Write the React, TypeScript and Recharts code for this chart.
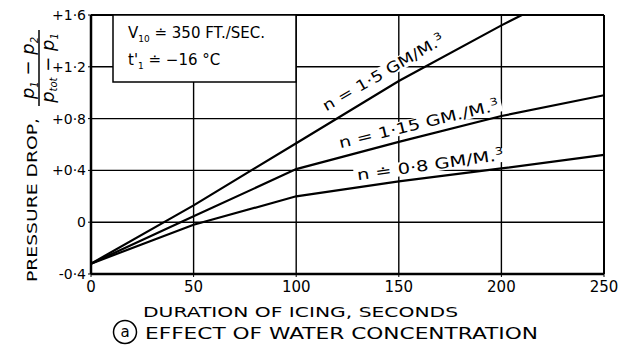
import { LineChart, Line, XAxis, YAxis, CartesianGrid, ReferenceLine } from "recharts";

const xTicks = [0, 50, 100, 150, 200, 250];
const yTicks = [-0.4, 0, 0.4, 0.8, 1.2, 1.6];
const yTickLabels = ["-0·4", "0", "+0·4", "+0·8", "+1·2", "+1·6"];

// duration of icing (s) and pressure drop, one pair per water concentration
const time15 = [0, 50, 100, 150, 200, 210];
const drop15 = [-0.32, 0.13, 0.61, 1.09, 1.52, 1.6];

const time115 = [0, 50, 100, 150, 200, 250];
const drop115 = [-0.32, 0.045, 0.41, 0.62, 0.82, 0.98];

const time08 = [0, 50, 100, 150, 200, 250];
const drop08 = [-0.32, -0.02, 0.2, 0.315, 0.415, 0.52];

const toPoints = (xs: number[], ys: number[]) => xs.map((x, i) => ({ x, y: ys[i] }));

const FONT = "'DejaVu Sans', sans-serif";
const INK = "#000";

function Sup({ children }: { children: string }) {
  return (
    <tspan dy={-6} fontSize={10}>
      {children}
    </tspan>
  );
}

// curve label on a white strip, so the grid breaks around the lettering like the drawing
function CurveLabel({ x, y, angle, len, children }: { x: number; y: number; angle: number; len: number; children: React.ReactNode }) {
  return (
    <g transform={`translate(${x},${y}) rotate(${angle})`}>
      <rect x={-len / 2 - 3} y={-12} width={len + 6} height={14} fill="#fff" />
      <text x={0} y={0} fontSize={15} textAnchor="middle" textLength={len} lengthAdjust="spacingAndGlyphs">
        {children}
      </text>
    </g>
  );
}

export default function App() {
  const s15 = toPoints(time15, drop15);
  const s115 = toPoints(time115, drop115);
  const s08 = toPoints(time08, drop08);

  return (
    <div style={{ position: "absolute", left: 0, top: 0, width: 628, height: 350, background: "#fff" }}>
      <LineChart width={628} height={350} margin={{ top: 15, right: 24, left: 90, bottom: 75 }}>
        <CartesianGrid stroke={INK} strokeWidth={1.4} />
        <XAxis
          type="number"
          dataKey="x"
          domain={[0, 250]}
          ticks={xTicks}
          height={1}
          tickSize={3}
          tickMargin={4}
          axisLine={{ stroke: INK, strokeWidth: 2.5 }}
          tickLine={{ stroke: INK }}
          tick={{ fill: INK, fontSize: 15, fontFamily: FONT }}
        />
        <YAxis
          type="number"
          domain={[-0.4, 1.6]}
          ticks={yTicks}
          width={1}
          tickSize={3}
          tickMargin={2}
          allowDataOverflow
          tickFormatter={(_v: number, i: number) => yTickLabels[i]}
          axisLine={{ stroke: INK, strokeWidth: 2.5 }}
          tickLine={{ stroke: INK }}
          tick={{ fill: INK, fontSize: 14, fontFamily: FONT }}
        />
        <ReferenceLine y={1.6} stroke={INK} strokeWidth={2} />
        <ReferenceLine x={250} stroke={INK} strokeWidth={2} />
        <Line data={s15} dataKey="y" type="linear" stroke={INK} strokeWidth={2.2} dot={false} isAnimationActive={false} />
        <Line data={s115} dataKey="y" type="linear" stroke={INK} strokeWidth={2.2} dot={false} isAnimationActive={false} />
        <Line data={s08} dataKey="y" type="linear" stroke={INK} strokeWidth={2.2} dot={false} isAnimationActive={false} />
      </LineChart>

      <svg
        width={628}
        height={350}
        style={{ position: "absolute", left: 0, top: 0, pointerEvents: "none" }}
        fontFamily={FONT}
        fill={INK}
      >
        {/* conditions box */}
        <rect x={113} y={15} width={183} height={67} fill="#fff" stroke={INK} strokeWidth={1.5} />
        <text x={128} y={38} fontSize={15}>
          V<tspan dy={4} fontSize={9}>10</tspan>
          <tspan dy={-4}> ≐ 350 FT./SEC.</tspan>
        </text>
        <text x={128} y={65} fontSize={15}>
          t'<tspan dy={4} fontSize={9}>1</tspan>
          <tspan dy={-4}> ≐ −16 °C</tspan>
        </text>

        {/* curve labels */}
        <CurveLabel x={386} y={77} angle={-30} len={138}>
          n = 1·5 GM/M.<Sup>3</Sup>
        </CurveLabel>
        <CurveLabel x={420} y={129} angle={-13.5} len={164}>
          n = 1·15 GM./M.<Sup>3</Sup>
        </CurveLabel>
        <CurveLabel x={431} y={170} angle={-8} len={148}>
          n ≐ 0·8 GM/M.<Sup>3</Sup>
        </CurveLabel>

        {/* y axis title */}
        <g transform="translate(37,200) rotate(-90)">
          <text x={0} y={0} fontSize={14} textAnchor="middle" textLength={164} lengthAdjust="spacingAndGlyphs">
            PRESSURE DROP,
          </text>
        </g>
        <g transform="translate(39,68) rotate(-90)">
          <text x={0} y={-5} fontSize={18} fontStyle="italic" textAnchor="middle">
            p<tspan dy={4} fontSize={10}>1</tspan>
            <tspan dy={-4}> − p</tspan>
            <tspan dy={4} fontSize={10}>2</tspan>
          </text>
          <line x1={-38} x2={38} y1={0} y2={0} stroke={INK} strokeWidth={1.5} />
          <text x={0} y={15} fontSize={18} fontStyle="italic" textAnchor="middle">
            p<tspan dy={3} fontSize={10}>tot</tspan>
            <tspan dy={-3}> − p</tspan>
            <tspan dy={4} fontSize={10}>1</tspan>
          </text>
        </g>

        {/* x axis title and caption */}
        <text x={143} y={317} fontSize={14} textLength={315} lengthAdjust="spacingAndGlyphs">
          DURATION OF ICING, SECONDS
        </text>
        <circle cx={125} cy={332} r={11.5} fill="none" stroke={INK} strokeWidth={1.5} />
        <text x={125} y={337} fontSize={15} textAnchor="middle">
          a
        </text>
        <text x={145} y={339} fontSize={16} textLength={393} lengthAdjust="spacingAndGlyphs">
          EFFECT OF WATER CONCENTRATION
        </text>
      </svg>
    </div>
  );
}
